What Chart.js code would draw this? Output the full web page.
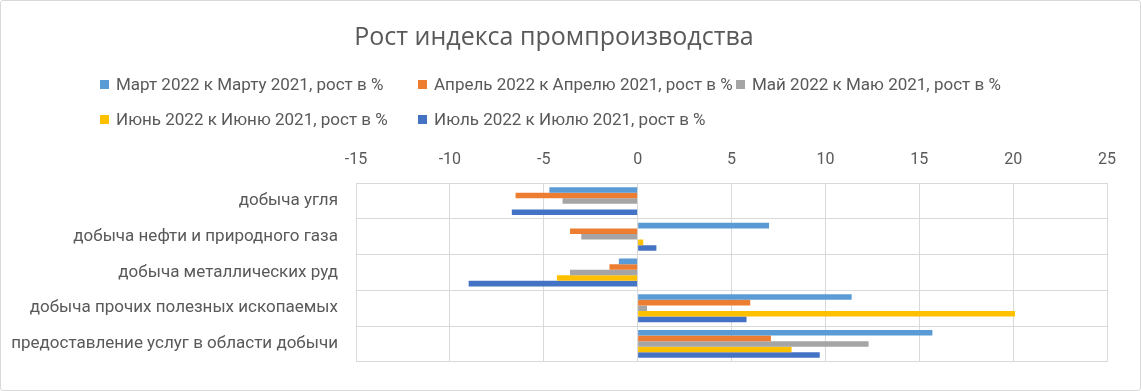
<!DOCTYPE html>
<html lang="ru">
  <head>
    <meta charset="UTF-8" />
    <title>Рост индекса промпроизводства</title>
    <script src="https://cdn.jsdelivr.net/npm/chart.js"></script>
    <style>
      body {
        margin: 0;
        background: #fff;
        font-family: Roboto, sans-serif;
      }
      .box {
        position: relative;
        width: 1141px;
        height: 391px;
        box-sizing: border-box;
        border: 1px solid #d9d9d9;
        border-radius: 3px;
      }
      .legend {
        position: absolute;
        left: 99px;
        top: 72px;
        display: grid;
        grid-template-columns: 318px 318px 318px;
        row-gap: 13px;
        font-size: 17px;
        color: #595959;
      }
      .legend span {
        display: flex;
        align-items: center;
        white-space: nowrap;
        height: 22px;
      }
      .legend i {
        display: inline-block;
        width: 9px;
        height: 9px;
        margin-right: 7px;
      }
    </style>
  </head>
  <body>
    <div class="box">
      <canvas id="chart" width="1139" height="389"></canvas>
      <div class="legend" id="legend"></div>
    </div>

    <script>
      // Categories (top to bottom)
      const categories = [
        "добыча угля",
        "добыча нефти и природного газа",
        "добыча металлических руд",
        "добыча прочих полезных ископаемых",
        "предоставление услуг в области добычи",
      ];

      // Series, growth in %
      const seriesNames = [
        "Март 2022 к Марту 2021, рост в %",
        "Апрель 2022 к Апрелю 2021, рост в %",
        "Май 2022 к Маю 2021, рост в %",
        "Июнь 2022 к Июню 2021, рост в %",
        "Июль 2022 к Июлю 2021, рост в %",
      ];
      const march = [-4.7, 7.0, -1.0, 11.4, 15.7];
      const april = [-6.5, -3.6, -1.5, 6.0, 7.1];
      const may = [-4.0, -3.0, -3.6, 0.5, 12.3];
      const june = [null, 0.3, -4.3, 20.1, 8.2];
      const july = [-6.7, 1.0, -9.0, 5.8, 9.7];

      const xTicks = [-15, -10, -5, 0, 5, 10, 15, 20, 25];

      const colors = ["#5B9BD5", "#ED7D31", "#A5A5A5", "#FFC000", "#4472C4"];
      const values = [march, april, may, june, july];

      // HTML legend laid out in columns like the original
      const legend = document.getElementById("legend");
      seriesNames.forEach((name, i) => {
        const item = document.createElement("span");
        item.innerHTML = `<i style="background:${colors[i]}"></i>${name}`;
        legend.appendChild(item);
      });

      new Chart(document.getElementById("chart"), {
        type: "bar",
        data: {
          labels: categories,
          datasets: values.map((data, i) => ({
            label: seriesNames[i],
            data: data,
            backgroundColor: colors[i],
            borderWidth: 0,
            categoryPercentage: 0.78,
            barPercentage: 1,
          })),
        },
        options: {
          indexAxis: "y",
          responsive: false,
          animation: false,
          layout: { padding: { left: 0, right: 33, top: 0, bottom: 22 } },
          plugins: {
            legend: { display: false },
            tooltip: { enabled: false },
            title: {
              display: true,
              text: "Рост индекса промпроизводства",
              color: "#595959",
              font: { family: "'Open Sans'", size: 25, weight: "normal" },
              padding: { top: 22, bottom: 83 },
            },
          },
          scales: {
            x: {
              position: "top",
              min: xTicks[0],
              max: xTicks[xTicks.length - 1],
              afterBuildTicks: (scale) => {
                scale.ticks = xTicks.map((v) => ({ value: v }));
              },
              ticks: {
                color: "#595959",
                font: { family: "Roboto", size: 16 },
                padding: 14,
              },
              grid: { color: "#d9d9d9", drawTicks: false },
              border: { color: "#d9d9d9" },
            },
            y: {
              afterFit: (scale) => {
                scale.width = 355;
              },
              ticks: {
                color: "#595959",
                font: { family: "Roboto", size: 17 },
                padding: 18,
              },
              grid: { color: "#d9d9d9", drawTicks: false },
              border: { color: "#d9d9d9" },
            },
          },
        },
      });
    </script>
  </body>
</html>
